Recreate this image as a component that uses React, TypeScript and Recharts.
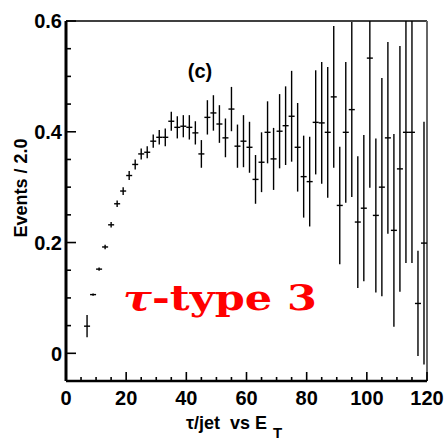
import { ComposedChart, ErrorBar, ReferenceLine, Scatter, XAxis, YAxis } from "recharts";

// tau/jet ET spectrum, 2 GeV bins
const binCenters = [
  7, 9, 11, 13, 15, 17, 19, 21, 23, 25, 27, 29, 31, 33, 35, 37, 39, 41, 43, 45, 47, 49, 51, 53,
  55, 57, 59, 61, 63, 65, 67, 69, 71, 73, 75, 77, 79, 81, 83, 85, 87, 89, 91, 93, 95, 97, 99,
  101, 103, 105, 107, 109, 111, 113, 115, 117, 119,
];
const eventsPerBin = [
  0.049, 0.106, 0.152, 0.192, 0.232, 0.27, 0.293, 0.321, 0.341, 0.36, 0.363, 0.383, 0.39, 0.39,
  0.419, 0.408, 0.41, 0.408, 0.398, 0.36, 0.426, 0.434, 0.414, 0.389, 0.441, 0.374, 0.383, 0.372,
  0.314, 0.345, 0.399, 0.351, 0.401, 0.411, 0.428, 0.372, 0.319, 0.31, 0.417, 0.416, 0.399, 0.463,
  0.267, 0.399, 0.44, 0.237, 0.262, 0.533, 0.249, 0.3, 0.389, 0.222, 0.333, 0.399, 0.399, 0.09,
  0.199,
];
const eventErrors = [
  0.02, 0.002, 0.003, 0.004, 0.005, 0.006, 0.007, 0.008, 0.009, 0.01, 0.011, 0.012, 0.013, 0.016,
  0.017, 0.02, 0.02, 0.022, 0.021, 0.025, 0.031, 0.032, 0.034, 0.035, 0.04, 0.039, 0.047, 0.046,
  0.044, 0.054, 0.056, 0.056, 0.067, 0.071, 0.082, 0.08, 0.074, 0.081, 0.094, 0.11, 0.118, 0.128,
  0.106, 0.127, 0.158, 0.119, 0.132, 0.234, 0.139, 0.197, 0.173, 0.174, 0.222, 0.236, 0.236, 0.095,
  0.219,
];
const binHalfWidth = 1;

const xTicks = [0, 5, 10, 15, 20, 25, 30, 35, 40, 45, 50, 55, 60, 65, 70, 75, 80, 85, 90, 95, 100, 105, 110, 115, 120];
const xMajorTicks = [0, 20, 40, 60, 80, 100, 120];
const yTicks = [0, 0.05, 0.1, 0.15, 0.2, 0.25, 0.3, 0.35, 0.4, 0.45, 0.5, 0.55, 0.6];
const yMajorTicks = [0, 0.2, 0.4, 0.6];

const data = binCenters.map((x, i) => ({
  x,
  y: eventsPerBin[i],
  ey: eventErrors[i],
  ex: binHalfWidth,
}));

const FONT = "'Liberation Sans', Arial, sans-serif";

function isMajor(list: number[], v: number) {
  return list.some((m) => Math.abs(m - v) < 1e-9);
}

function XTick(props: any) {
  const { x, y, payload } = props;
  const major = isMajor(xMajorTicks, payload.value);
  return (
    <g>
      <line x1={x} x2={x} y1={y} y2={y - (major ? 9 : 4)} stroke="#000" strokeWidth={1.6} />
      {major && (
        <text x={x} y={y + 24} textAnchor="middle" fontFamily={FONT} fontWeight="bold" fontSize={20} fill="#000">
          {payload.value}
        </text>
      )}
    </g>
  );
}

function YTick(props: any) {
  const { x, y, payload } = props;
  const major = isMajor(yMajorTicks, payload.value);
  return (
    <g>
      <line x1={x} x2={x + (major ? 10 : 5)} y1={y} y2={y} stroke="#000" strokeWidth={1.6} />
      {major && (
        <text x={x - 4} y={y} dy="0.36em" textAnchor="end" fontFamily={FONT} fontWeight="bold" fontSize={20} fill="#000">
          {payload.value}
        </text>
      )}
    </g>
  );
}

export default function App() {
  return (
    <div style={{ position: "absolute", left: 0, top: 0, width: 445, height: 441, background: "#fff" }}>
      <ComposedChart width={445} height={441} data={data} margin={{ top: 21, right: 18, bottom: 59, left: 65 }}>
        <defs>
          <clipPath id="plot-clip">
            <rect x={60} y={21} width={380} height={365} />
          </clipPath>
        </defs>
        <XAxis
          dataKey="x"
          type="number"
          domain={[0, 120]}
          ticks={xTicks}
          interval={0}
          allowDataOverflow
          height={1}
          tickSize={0}
          tickMargin={0}
          tickLine={false}
          tick={<XTick />}
          axisLine={false}
        />
        <YAxis
          type="number"
          domain={[-0.05, 0.6]}
          ticks={yTicks}
          interval={0}
          allowDataOverflow
          width={1}
          tickSize={0}
          tickMargin={0}
          tickLine={false}
          tick={<YTick />}
          axisLine={false}
        />
        <ReferenceLine y={0.6} stroke="#000" strokeWidth={1.5} ifOverflow="visible" />
        <ReferenceLine x={120} stroke="#666" strokeWidth={2} ifOverflow="visible" />
        <ReferenceLine
          segment={[
            { x: 0, y: -0.05 },
            { x: 0, y: 0.6 },
          ]}
          stroke="#000"
          strokeWidth={3}
          ifOverflow="visible"
        />
        <ReferenceLine
          segment={[
            { x: 0, y: -0.05 },
            { x: 120, y: -0.05 },
          ]}
          stroke="#000"
          strokeWidth={2.5}
          ifOverflow="visible"
        />
        <Scatter dataKey="y" isAnimationActive={false} shape={() => <g />}>
          <ErrorBar
            dataKey="ey"
            direction="y"
            width={0}
            stroke="#000"
            strokeWidth={1.4}
            clipPath="url(#plot-clip)"
            isAnimationActive={false}
          />
          <ErrorBar
            dataKey="ex"
            direction="x"
            width={0}
            stroke="#000"
            strokeWidth={1.4}
            clipPath="url(#plot-clip)"
            isAnimationActive={false}
          />
        </Scatter>
        <text x={200} y={78} textAnchor="middle" fontFamily={FONT} fontWeight="bold" fontSize={20} fill="#000">
          (c)
        </text>
        <text
          x={123}
          y={310}
          fontFamily="'DejaVu Serif', serif"
          fontWeight="bold"
          fontSize={36}
          fill="#f00"
          textLength={194}
          lengthAdjust="spacingAndGlyphs"
        >
          <tspan fontStyle="italic">τ</tspan>-type 3
        </text>
        <text x={186} y={429} fontFamily={FONT} fontWeight="bold" fontSize={18} fill="#000" style={{ whiteSpace: "pre" }}>
          {"τ/jet  vs E"}
          <tspan dx={6} dy={9} fontSize={15}>
            T
          </tspan>
        </text>
        <text
          x={21}
          y={188}
          transform="rotate(-90 21 188)"
          dy="0.36em"
          textAnchor="middle"
          fontFamily={FONT}
          fontWeight="bold"
          fontSize={18}
          fill="#000"
          style={{ whiteSpace: "pre" }}
        >
          Events / 2.0
        </text>
      </ComposedChart>
    </div>
  );
}
